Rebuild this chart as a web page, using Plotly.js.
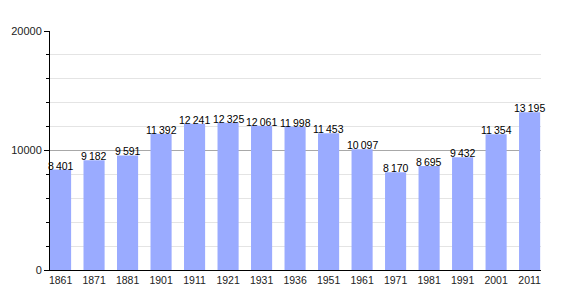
<!DOCTYPE html>
<html><head><meta charset="utf-8">
<script src="https://cdn.plot.ly/plotly-3.0.1.min.js"></script>
<style>body{margin:0;background:#fff}#c{width:570px;height:300px}</style>
</head><body><div id="c"></div>
<script>
const years = ['1861','1871','1881','1901','1911','1921','1931','1936','1951','1961','1971','1981','1991','2001','2011'];
const population = [8401, 9182, 9591, 11392, 12241, 12325, 12061, 11998, 11453, 10097, 8170, 8695, 9432, 11354, 13195];
const yTickVals = [0, 10000, 20000];

function fmt(v) { return String(v).replace(/\B(?=(\d{3})+(?!\d))/g, '\u2009'); }

const labels = years.map((yr, i) => ({
  x: i, y: population[i], xref: 'x', yref: 'y',
  text: fmt(population[i]), showarrow: false,
  yanchor: 'middle', yshift: 4,
  font: {family: 'Liberation Sans, Arial, sans-serif', size: 10.5, color: '#000'}
}));

Plotly.newPlot('c', [{
  type: 'bar',
  x: years,
  y: population,
  marker: {color: '#9aabff'},
  hoverinfo: 'none'
}], {
  width: 570, height: 300,
  margin: {l: 50, r: 29, t: 31, b: 30},
  bargap: 0.37,
  showlegend: false,
  annotations: labels,
  paper_bgcolor: '#fff', plot_bgcolor: '#fff',
  font: {family: 'Liberation Sans, Arial, sans-serif', size: 11, color: '#222'},
  xaxis: {
    type: 'category',
    range: [-0.315, 14.34],
    showline: true, linecolor: '#000', linewidth: 1,
    ticks: '', showgrid: false,
    tickfont: {size: 10.5, color: '#222'}
  },
  yaxis: {
    range: [0, 20000],
    tickvals: yTickVals,
    tickformat: 'd',
    showline: true, linecolor: '#000', linewidth: 1,
    ticks: 'outside', ticklen: 5, tickcolor: '#000',
    showgrid: true, gridcolor: '#a8a8a8',
    zeroline: false,
    minor: {dtick: 2000, ticks: 'outside', ticklen: 3, tickcolor: '#000', showgrid: true, gridcolor: '#e4e4e4'},
    tickfont: {size: 11, color: '#222'}
  }
}, {staticPlot: true});
</script></body></html>
